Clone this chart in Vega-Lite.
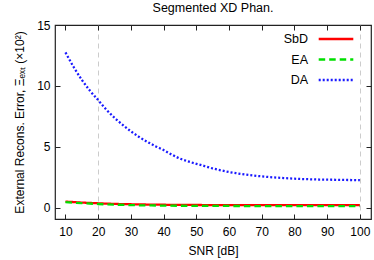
{
  "$schema": "https://vega.github.io/schema/vega-lite/v6.json",
  "width": 316,
  "height": 194,
  "autosize": {"type": "none"},
  "padding": {"left": 55, "top": 25, "right": 3, "bottom": 41},
  "config": {
    "font": "Liberation Sans",
    "view": {"stroke": "#222222", "strokeWidth": 1.2},
    "axis": {"labelFont": "Liberation Sans", "titleFont": "Liberation Sans", "labelFontSize": 12, "titleFontSize": 12, "titleFontWeight": "normal", "labelColor": "#000000", "titleColor": "#000000", "tickColor": "#222222", "domain": false, "grid": false}
  },
  "title": {"text": "Segmented XD Phan.", "fontSize": 12.5, "fontWeight": "normal", "font": "Liberation Sans", "color": "#000000", "offset": 5},
  "data": {"values": [
    {"snr": 10, "err": 0.50, "m": "SbD"}, {"snr": 15, "err": 0.42, "m": "SbD"}, {"snr": 20, "err": 0.36, "m": "SbD"}, {"snr": 25, "err": 0.31, "m": "SbD"}, {"snr": 30, "err": 0.28, "m": "SbD"}, {"snr": 40, "err": 0.24, "m": "SbD"}, {"snr": 50, "err": 0.22, "m": "SbD"}, {"snr": 60, "err": 0.21, "m": "SbD"}, {"snr": 70, "err": 0.21, "m": "SbD"}, {"snr": 80, "err": 0.21, "m": "SbD"}, {"snr": 90, "err": 0.21, "m": "SbD"}, {"snr": 100, "err": 0.21, "m": "SbD"},
    {"snr": 10, "err": 0.45, "m": "EA"}, {"snr": 15, "err": 0.37, "m": "EA"}, {"snr": 20, "err": 0.30, "m": "EA"}, {"snr": 25, "err": 0.25, "m": "EA"}, {"snr": 30, "err": 0.21, "m": "EA"}, {"snr": 40, "err": 0.17, "m": "EA"}, {"snr": 50, "err": 0.15, "m": "EA"}, {"snr": 60, "err": 0.14, "m": "EA"}, {"snr": 70, "err": 0.13, "m": "EA"}, {"snr": 80, "err": 0.13, "m": "EA"}, {"snr": 90, "err": 0.13, "m": "EA"}, {"snr": 100, "err": 0.13, "m": "EA"},
    {"snr": 10, "err": 12.75, "m": "DA"}, {"snr": 12.5, "err": 11.55, "m": "DA"}, {"snr": 15, "err": 10.5, "m": "DA"}, {"snr": 17.5, "err": 9.6, "m": "DA"}, {"snr": 20, "err": 8.83, "m": "DA"}, {"snr": 22.5, "err": 8.05, "m": "DA"}, {"snr": 25, "err": 7.38, "m": "DA"}, {"snr": 27.5, "err": 6.8, "m": "DA"}, {"snr": 30, "err": 6.27, "m": "DA"}, {"snr": 32.5, "err": 5.81, "m": "DA"}, {"snr": 35, "err": 5.41, "m": "DA"}, {"snr": 37.5, "err": 5.05, "m": "DA"}, {"snr": 40, "err": 4.73, "m": "DA"}, {"snr": 42.5, "err": 4.36, "m": "DA"}, {"snr": 45, "err": 4.03, "m": "DA"}, {"snr": 47.5, "err": 3.8, "m": "DA"}, {"snr": 50, "err": 3.6, "m": "DA"}, {"snr": 52.5, "err": 3.42, "m": "DA"}, {"snr": 55, "err": 3.22, "m": "DA"}, {"snr": 57.5, "err": 3.07, "m": "DA"}, {"snr": 60, "err": 2.93, "m": "DA"}, {"snr": 62.5, "err": 2.82, "m": "DA"}, {"snr": 65, "err": 2.72, "m": "DA"}, {"snr": 67.5, "err": 2.64, "m": "DA"}, {"snr": 70, "err": 2.57, "m": "DA"}, {"snr": 72.5, "err": 2.51, "m": "DA"}, {"snr": 75, "err": 2.46, "m": "DA"}, {"snr": 77.5, "err": 2.42, "m": "DA"}, {"snr": 80, "err": 2.38, "m": "DA"}, {"snr": 82.5, "err": 2.35, "m": "DA"}, {"snr": 85, "err": 2.33, "m": "DA"}, {"snr": 87.5, "err": 2.31, "m": "DA"}, {"snr": 90, "err": 2.3, "m": "DA"}, {"snr": 92.5, "err": 2.29, "m": "DA"}, {"snr": 95, "err": 2.28, "m": "DA"}, {"snr": 97.5, "err": 2.27, "m": "DA"}, {"snr": 100, "err": 2.26, "m": "DA"}
  ]},
  "resolve": {"axis": {"x": "independent", "y": "independent"}},
  "layer": [
    {
      "mark": {"type": "rule", "opacity": 0},
      "encoding": {
        "x": {"field": "snr", "type": "quantitative", "scale": {"domain": [6.8, 103.4], "nice": false, "zero": false},
              "axis": {"values": [20, 100], "grid": true, "gridColor": "#cccccc", "gridDash": [5, 4], "gridWidth": 1, "ticks": false, "labels": false, "title": null}},
        "y": {"field": "err", "type": "quantitative", "scale": {"domain": [-0.93, 15], "nice": false, "zero": false},
              "axis": {"values": [0, 5, 10, 15], "tickSize": -5, "labelPadding": 10, "title": "External Recons. Error, Ξₑₓₜ (×10²)", "titlePadding": 10}}
      }
    },
    {
      "mark": {"type": "rule", "opacity": 0},
      "encoding": {
        "x": {"field": "snr", "type": "quantitative", "scale": {"domain": [6.8, 103.4], "nice": false, "zero": false},
              "axis": {"orient": "top", "values": [10, 20, 30, 40, 50, 60, 70, 80, 90, 100], "tickSize": -5, "labels": false, "title": null}},
        "y": {"field": "err", "type": "quantitative", "scale": {"domain": [-0.93, 15], "nice": false, "zero": false},
              "axis": {"orient": "right", "values": [0, 5, 10, 15], "tickSize": -5, "labels": false, "title": null}}
      }
    },
    {
      "mark": {"type": "line", "strokeWidth": 2.3, "interpolate": "monotone"},
      "encoding": {
        "x": {"field": "snr", "type": "quantitative", "scale": {"domain": [6.8, 103.4], "nice": false, "zero": false},
              "axis": {"values": [10, 20, 30, 40, 50, 60, 70, 80, 90, 100], "tickSize": -5, "labelPadding": 12, "title": "SNR [dB]", "titlePadding": 8}},
        "y": {"field": "err", "type": "quantitative", "scale": {"domain": [-0.93, 15], "nice": false, "zero": false}, "axis": null},
        "color": {"field": "m", "type": "nominal", "sort": ["SbD", "EA", "DA"],
                  "scale": {"domain": ["SbD", "EA", "DA"], "range": ["#ff0000", "#00e000", "#1a1aff"]},
                  "legend": {"orient": "none", "legendX": 274, "legendY": 7, "title": null, "symbolType": "M-3,0H3", "symbolSize": 133, "symbolStrokeWidth": 2.3, "labelFontSize": 12.5, "labelFont": "Liberation Sans", "labelColor": "#000000", "labelAlign": "right", "labelOffset": -35, "rowPadding": 6.5, "padding": 0}},
        "strokeDash": {"field": "m", "type": "nominal", "sort": ["SbD", "EA", "DA"],
                  "scale": {"domain": ["SbD", "EA", "DA"], "range": [[1, 0], [6.5, 4], [2, 2]]}, "legend": null}
      }
    }
  ]
}
